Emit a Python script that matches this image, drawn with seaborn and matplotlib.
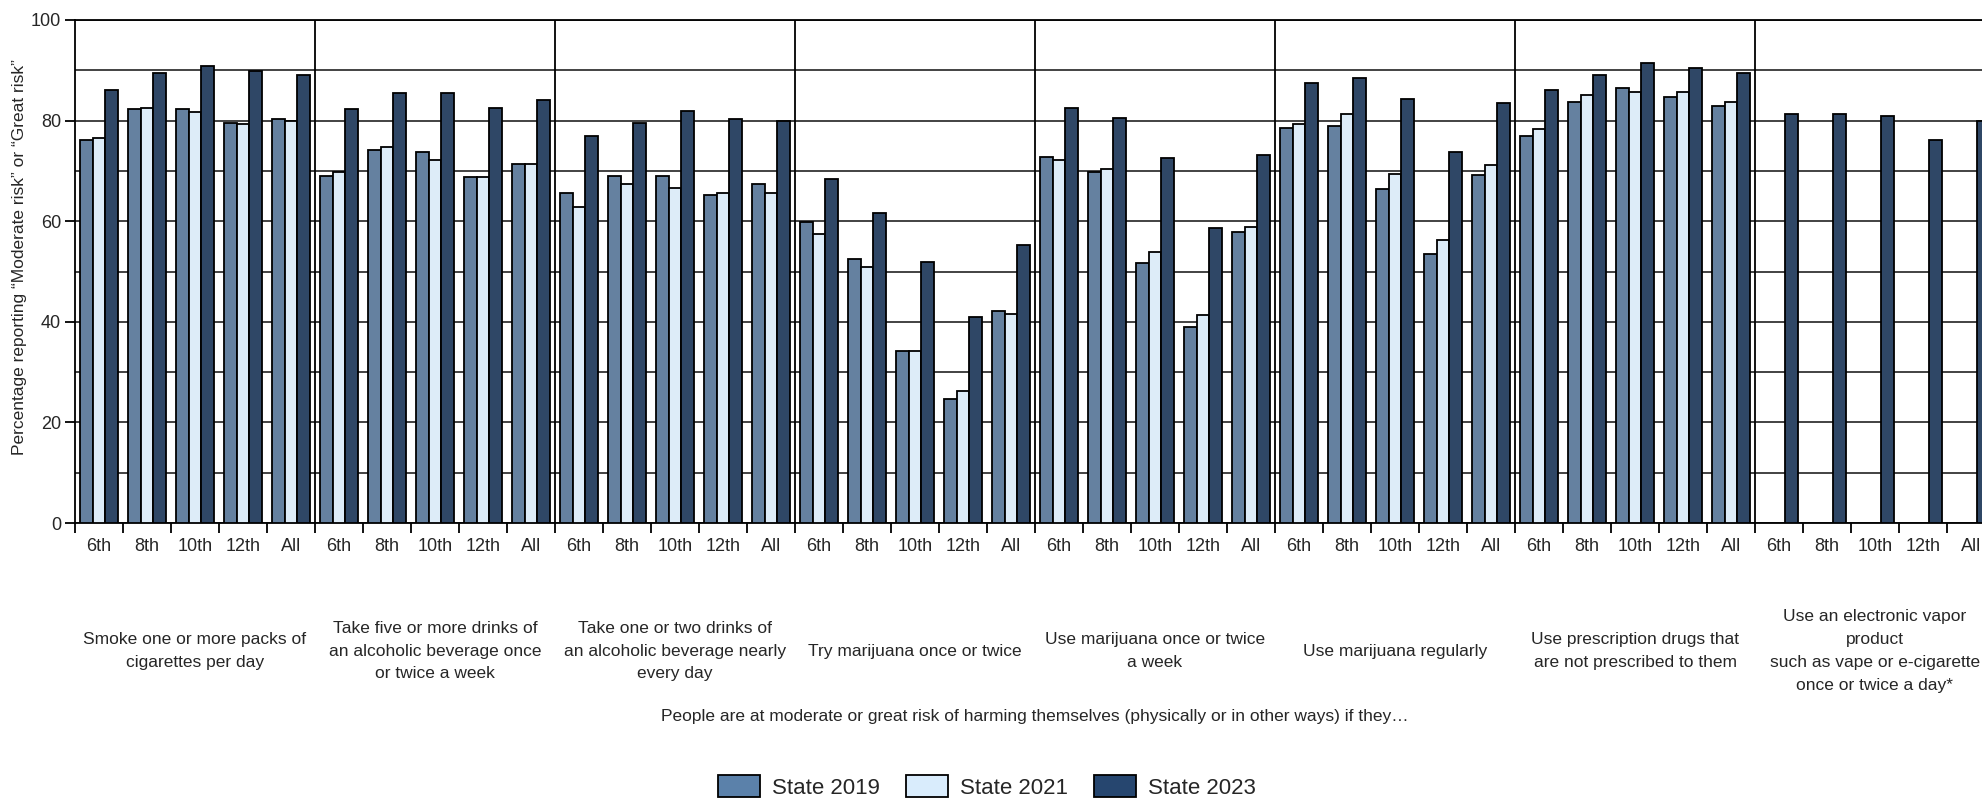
import numpy as np
import pandas as pd
import seaborn as sns
import matplotlib.pyplot as plt
from matplotlib.patches import Patch

# data
grades = ['6th', '8th', '10th', '12th', 'All']
behaviors = [
    'Smoke one or more packs of\ncigarettes per day',
    'Take five or more drinks of\nan alcoholic beverage once\nor twice a week',
    'Take one or two drinks of\nan alcoholic beverage nearly\nevery day',
    'Try marijuana once or twice',
    'Use marijuana once or twice\na week',
    'Use marijuana regularly',
    'Use prescription drugs that\nare not prescribed to them',
    'Use an electronic vapor\nproduct\nsuch as vape or e-cigarette\nonce or twice a day*',
]
years = ['State 2019', 'State 2021', 'State 2023']
colors = ['#5b81aa', '#d9ecfc', '#26466f']

state_2019 = [76.2, 82.3, 82.3, 79.6, 80.3,
              69.0, 74.2, 73.8, 68.7, 71.4,
              65.6, 69.0, 69.0, 65.3, 67.3,
              59.9, 52.5, 34.2, 24.6, 42.2,
              72.8, 69.7, 51.7, 38.9, 57.9,
              78.6, 78.9, 66.4, 53.5, 69.1,
              76.9, 83.7, 86.4, 84.7, 83.0,
              np.nan, np.nan, np.nan, np.nan, np.nan]
state_2021 = [76.6, 82.6, 81.7, 79.3, 80.0,
              69.7, 74.8, 72.1, 68.7, 71.4,
              62.9, 67.3, 66.6, 65.6, 65.6,
              57.4, 50.8, 34.2, 26.3, 41.6,
              72.1, 70.4, 53.8, 41.3, 58.9,
              79.3, 81.3, 69.4, 56.2, 71.1,
              78.3, 85.1, 85.7, 85.7, 83.7,
              np.nan, np.nan, np.nan, np.nan, np.nan]
state_2023 = [86.1, 89.5, 90.8, 89.8, 89.1,
              82.3, 85.4, 85.4, 82.6, 84.1,
              76.9, 79.6, 82.0, 80.3, 80.0,
              68.4, 61.7, 51.8, 40.9, 55.2,
              82.6, 80.6, 72.5, 58.6, 73.1,
              87.4, 88.4, 84.3, 73.8, 83.4,
              86.1, 89.1, 91.5, 90.5, 89.5,
              81.3, 81.3, 81.0, 76.2, 80.0]

slots = [f'{b}|{g}' for b in range(len(behaviors)) for g in grades]
rows = []
for year, vals in zip(years, [state_2019, state_2021, state_2023]):
    for slot, v in zip(slots, vals):
        if not np.isnan(v):
            rows.append({'slot': slot, 'year': year, 'value': v})
df = pd.DataFrame(rows)

sns.set_style('white')
plt.rcParams['font.family'] = ['Liberation Sans', 'DejaVu Sans']

fig = plt.figure(figsize=(19.82, 8.01), dpi=100)
ax = fig.add_axes([75 / 1982, 278 / 801, 1920 / 1982, 503 / 801])

sns.barplot(data=df, x='slot', y='value', hue='year', order=slots,
            hue_order=years, palette=colors, edgecolor='black',
            linewidth=1.3, width=0.8, errorbar=None, legend=False, ax=ax,
            zorder=3)

ax.set_xlim(-0.5, len(slots) - 0.5)
ax.set_ylim(0, 100)
ax.set_yticks(range(0, 101, 20))
ax.set_yticks(range(10, 100, 20), minor=True)
ax.grid(axis='y', which='both', color='#222222', linewidth=1.2, zorder=0)
ax.set_axisbelow(True)
for s in ax.spines.values():
    s.set_color('black')
    s.set_linewidth(1.3)

ax.set_xticks(range(len(slots)))
ax.set_xticklabels(grades * len(behaviors))
ax.set_xticks(np.arange(-0.5, len(slots), 1.0), minor=True)
ax.tick_params(axis='x', which='major', length=0, pad=11, labelsize=13)
ax.tick_params(axis='x', which='minor', length=7, width=1.3, color='black',
               direction='out', bottom=True)
ax.tick_params(axis='y', which='major', length=7, width=1.3, color='black',
               direction='out', left=True, pad=3, labelsize=13)
ax.tick_params(axis='y', which='minor', length=0)
ax.set_xlabel('')
ax.set_ylabel('')

for k in range(1, len(behaviors)):
    ax.axvline(5 * k - 0.5, color='black', linewidth=1.3, zorder=1)

for k, b in enumerate(behaviors):
    ax.text(5 * k + 2, -0.2545, b, transform=ax.get_xaxis_transform(),
            ha='center', va='center', multialignment='center',
            fontsize=12.5, linespacing=1.65)

ax.text(0.5, -0.384,
        'People are at moderate or great risk of harming themselves '
        '(physically or in other ways) if they\u2026',
        transform=ax.transAxes, ha='center', va='center', fontsize=12.5)

fig.text(20 / 1982, 1 - 257 / 801,
         'Percentage reporting \u201cModerate risk\u201d or \u201cGreat risk\u201d',
         rotation=90, ha='center', va='center', fontsize=12.5)

handles = [Patch(facecolor=c, edgecolor='black', linewidth=1.3) for c in colors]
fig.legend(handles, years, loc='center', bbox_to_anchor=(0.498, 14 / 801),
           ncol=3, frameon=False, fontsize=16, handlelength=1.9,
           handleheight=1.15, handletextpad=0.55, columnspacing=1.15)

fig.savefig('out.png', dpi=100)
